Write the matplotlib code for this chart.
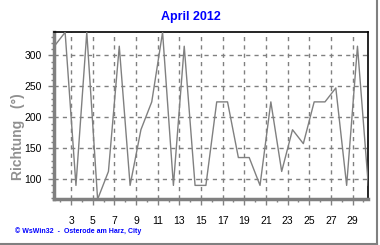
import numpy as np
import matplotlib
matplotlib.use("Agg")
import matplotlib.pyplot as plt
from matplotlib.ticker import MultipleLocator, FixedLocator
from matplotlib.lines import Line2D

plt.rcParams['font.family'] = ['Liberation Sans', 'DejaVu Sans']

# wind direction, one value per day of April 2012
days = np.arange(1, 31)
richtung = [315, 337.5, 90, 337.5, 67.5, 112.5, 315, 90, 180, 225,
            337.5, 90, 315, 90, 90, 225, 225, 135, 135, 90,
            225, 112.5, 180, 157.5, 225, 225, 247.5, 90, 315, 90]
x_ticks = [3, 5, 7, 9, 11, 13, 15, 17, 19, 21, 23, 25, 27, 29]
y_ticks = [100, 150, 200, 250, 300]

fig = plt.figure(figsize=(3.8, 2.45), dpi=100)
ax = fig.add_axes([54.3 / 380, 1 - 199.3 / 245, (368.3 - 54.3) / 380, (199.3 - 32.3) / 245])

x = days + 0.45
ax.plot(x, richtung, color='#808080', lw=1, zorder=3)
ax.set_xlim(x[0], x[-1])
ax.set_ylim(min(richtung), max(richtung))

ax.xaxis.set_major_locator(FixedLocator(x_ticks))
ax.xaxis.set_minor_locator(MultipleLocator(1))
ax.yaxis.set_major_locator(FixedLocator(y_ticks))
ax.yaxis.set_minor_locator(MultipleLocator(10))
ax.grid(True, which='major', color='#808080', ls=(0, (3, 3)), lw=1)

ax.tick_params(which='major', length=4, width=1, color='#808080', labelsize=7.5, pad=5)
ax.tick_params(which='minor', length=2, width=1, color='#808080')
ax.tick_params(axis='x', which='major', pad=8)

for s in ['left', 'bottom']:
    ax.spines[s].set_color('#808080')
    ax.spines[s].set_linewidth(2.5)
for s in ['top', 'right']:
    ax.spines[s].set_color('black')
    ax.spines[s].set_linewidth(1.2)

fig.text(191 / 380, 1 - 17 / 245, 'April 2012', color='#0000ff', fontsize=9,
         fontweight='bold', ha='center', va='center')
fig.text(18 / 380, 1 - 137 / 245, 'Richtung   (°)', color='#909090', fontsize=10,
         fontweight='bold', rotation=90, ha='center', va='center')
fig.text(15 / 380, 1 - 231 / 245, '© WsWin32  -  Osterode am Harz, City', color='#0000ff',
         fontsize=5, fontweight='bold', ha='left', va='center')

# outer frame, right and bottom only
fig.add_artist(Line2D([0, 377 / 380], [1 - 244 / 245] * 2, color='#808080', lw=1.5))
fig.add_artist(Line2D([377 / 380] * 2, [1 - 244 / 245, 1], color='#808080', lw=1.5))

fig.savefig('out.png', dpi=100)
